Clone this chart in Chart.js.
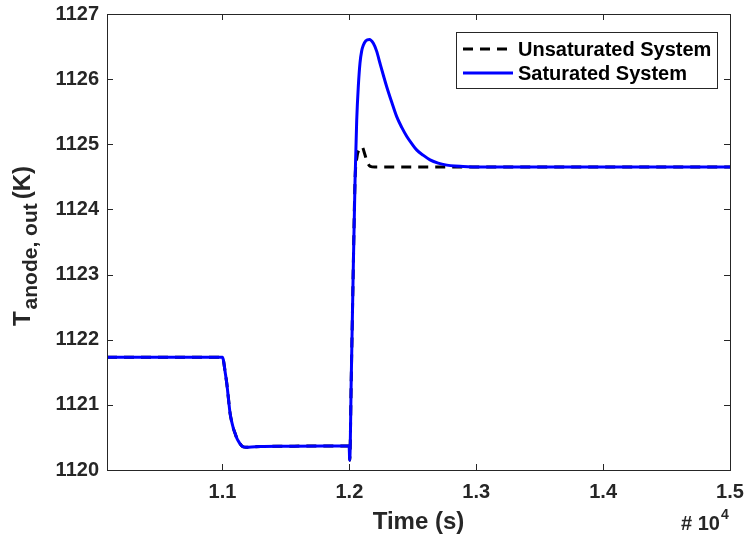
<!DOCTYPE html>
<html>
<head>
<meta charset="utf-8">
<script src="https://cdn.jsdelivr.net/npm/chart.js@4.4.1/dist/chart.umd.min.js"></script>
<style>
  html, body { margin: 0; padding: 0; background: #ffffff; }
  #c { display: block; }
</style>
</head>
<body>
<canvas id="c" width="748" height="544"></canvas>
<script>
// ---- data ----
const satTime = [10090, 11000, 11007, 11020, 11034, 11047, 11060, 11073, 11086, 11100, 11113, 11126, 11139, 11152, 11165, 11185, 11205, 11300, 11500, 11800, 11998,
                 12003, 12015, 12030, 12045, 12058, 12071, 12084, 12097, 12110, 12130, 12158, 12189, 12215, 12242, 12268, 12295, 12335, 12374, 12413, 12453, 12492, 12532, 12584, 12636, 12700, 12768, 12832, 12896, 13000, 14000, 15000];
const satTemp = [1121.73, 1121.73, 1121.69, 1121.52, 1121.33, 1121.10, 1120.87, 1120.74, 1120.64, 1120.56, 1120.49, 1120.44, 1120.40, 1120.37, 1120.355, 1120.35, 1120.35, 1120.36, 1120.365, 1120.37, 1120.37,
                 1120.15, 1121.40, 1123.00, 1124.45, 1125.37, 1125.90, 1126.25, 1126.43, 1126.52, 1126.59, 1126.61, 1126.55, 1126.43, 1126.24, 1126.06, 1125.88, 1125.64, 1125.42, 1125.26, 1125.12, 1125.01, 1124.91, 1124.83, 1124.76, 1124.71, 1124.68, 1124.665, 1124.66, 1124.65, 1124.65, 1124.65];
const unsatTime = [10090, 11000, 11007, 11020, 11034, 11047, 11060, 11073, 11086, 11100, 11113, 11126, 11139, 11152, 11165, 11185, 11205, 11300, 11500, 11800, 11998,
                   12003, 12015, 12030, 12045, 12060, 12080, 12100, 12120, 12140, 12165, 12200, 13000, 14000, 15000];
const unsatTemp = [1121.73, 1121.73, 1121.69, 1121.52, 1121.33, 1121.10, 1120.87, 1120.74, 1120.64, 1120.56, 1120.49, 1120.44, 1120.40, 1120.37, 1120.355, 1120.35, 1120.35, 1120.36, 1120.365, 1120.37, 1120.37,
                   1120.15, 1121.40, 1123.00, 1124.45, 1124.80, 1124.93, 1124.96, 1124.86, 1124.73, 1124.66, 1124.65, 1124.65, 1124.65, 1124.65];
const seriesNames = ['Unsaturated System', 'Saturated System'];
const xTickValues = [11000, 12000, 13000, 14000, 15000];
const yTickValues = [1120, 1121, 1122, 1123, 1124, 1125, 1126, 1127];
const xRange = [10090, 15000];
const yRange = [1120, 1127];
const xTitle = 'Time (s)';
const yTitleMain = 'T';
const yTitleSub = 'anode, out';
const yTitleUnit = '(K)';
const xExponent = '4';

// ---- styling ----
const FONT = "'Liberation Sans', Arial, Helvetica, sans-serif";
const INK = '#262626';

const toPoints = (xs, ys) => xs.map((x, i) => ({ x: x, y: ys[i] }));

const decorPlugin = {
  id: 'decor',
  afterDraw(chart) {
    const ctx = chart.ctx;
    const a = chart.chartArea;
    const xs = chart.scales.x, ys = chart.scales.y;
    ctx.save();
    // frame
    ctx.strokeStyle = INK;
    ctx.lineWidth = 1;
    ctx.strokeRect(Math.round(a.left) + 0.5, Math.round(a.top) + 0.5, Math.round(a.right - a.left), Math.round(a.bottom - a.top));
    // inward ticks
    const tl = 6;
    ctx.beginPath();
    xTickValues.forEach(v => {
      const px = Math.round(xs.getPixelForValue(v)) + 0.5;
      ctx.moveTo(px, a.bottom); ctx.lineTo(px, a.bottom - tl);
      ctx.moveTo(px, a.top); ctx.lineTo(px, a.top + tl);
    });
    yTickValues.forEach(v => {
      const py = Math.round(ys.getPixelForValue(v)) + 0.5;
      ctx.moveTo(a.left, py); ctx.lineTo(a.left + tl, py);
      ctx.moveTo(a.right, py); ctx.lineTo(a.right - tl, py);
    });
    ctx.stroke();

    // x title
    ctx.fillStyle = INK;
    ctx.font = 'bold 24px ' + FONT;
    ctx.textAlign = 'center';
    ctx.textBaseline = 'middle';
    ctx.fillText(xTitle, (a.left + a.right) / 2, 522);

    // exponent label
    ctx.textAlign = 'left';
    ctx.textBaseline = 'alphabetic';
    ctx.font = 'bold 20px ' + FONT;
    const base = '# 10';
    ctx.fillText(base, 681, 530);
    const bw = ctx.measureText(base).width;
    ctx.font = 'bold 14px ' + FONT;
    ctx.fillText(xExponent, 681 + bw + 1, 519);

    // y title (rotated, with subscript)
    ctx.save();
    ctx.font = 'bold 24px ' + FONT;
    const wT = ctx.measureText(yTitleMain).width;
    const wU = ctx.measureText(yTitleUnit).width;
    ctx.font = 'bold 21px ' + FONT;
    const wS = ctx.measureText(yTitleSub).width;
    const total = wT + 2 + wS + 4 + wU;
    const cy = 246;
    ctx.translate(30, cy + total / 2);
    ctx.rotate(-Math.PI / 2);
    ctx.textAlign = 'left';
    ctx.textBaseline = 'alphabetic';
    ctx.font = 'bold 24px ' + FONT;
    ctx.fillText(yTitleMain, 0, 0);
    ctx.font = 'bold 21px ' + FONT;
    ctx.fillText(yTitleSub, wT + 2, 7);
    ctx.font = 'bold 24px ' + FONT;
    ctx.fillText(yTitleUnit, wT + 2 + wS + 4, 0);
    ctx.restore();

    // legend
    const lx = 456, ly = 32, lw = 261, lh = 56;
    ctx.fillStyle = '#ffffff';
    ctx.fillRect(lx, ly, lw, lh);
    ctx.strokeStyle = INK;
    ctx.lineWidth = 1;
    ctx.strokeRect(lx + 0.5, ly + 0.5, lw, lh);
    const rows = [49, 73];
    chart.data.datasets.forEach((ds, i) => {
      const y = rows[i];
      ctx.save();
      ctx.strokeStyle = ds.borderColor;
      ctx.lineWidth = ds.borderWidth;
      ctx.setLineDash(ds.borderDash || []);
      ctx.beginPath();
      ctx.moveTo(463, y); ctx.lineTo(513, y);
      ctx.stroke();
      ctx.restore();
      ctx.fillStyle = '#000000';
      ctx.font = 'bold 20px ' + FONT;
      ctx.textAlign = 'left';
      ctx.textBaseline = 'middle';
      ctx.fillText(ds.label, 518, y + 1);
    });
    ctx.restore();
  }
};

new Chart(document.getElementById('c'), {
  type: 'line',
  data: {
    datasets: [
      { label: seriesNames[0], data: toPoints(unsatTime, unsatTemp), borderColor: '#000000', borderWidth: 3, borderDash: [10, 7], pointRadius: 0, fill: false, cubicInterpolationMode: 'monotone', order: 2 },
      { label: seriesNames[1], data: toPoints(satTime, satTemp), borderColor: '#0000ff', borderWidth: 3, pointRadius: 0, fill: false, cubicInterpolationMode: 'monotone', order: 1 }
    ]
  },
  options: {
    responsive: false,
    animation: false,
    devicePixelRatio: 1,
    layout: { padding: { top: 14, right: 18, left: 0, bottom: 0 } },
    plugins: { legend: { display: false }, tooltip: { enabled: false } },
    scales: {
      x: {
        type: 'linear', min: xRange[0], max: xRange[1],
        afterBuildTicks: s => { s.ticks = xTickValues.map(v => ({ value: v })); },
        afterFit: s => { s.height = 74; s.paddingLeft = 0; s.paddingRight = 0; },
        grid: { display: false, drawTicks: false },
        border: { display: false },
        ticks: { callback: v => (v / 10000).toFixed(1), color: INK, font: { family: FONT, size: 20, weight: 'bold' }, padding: 10, maxRotation: 0, autoSkip: false }
      },
      y: {
        type: 'linear', min: yRange[0], max: yRange[1],
        afterBuildTicks: s => { s.ticks = yTickValues.map(v => ({ value: v })); },
        afterFit: s => { s.width = 107; s.paddingTop = 0; s.paddingBottom = 0; },
        grid: { display: false, drawTicks: false },
        border: { display: false },
        ticks: { callback: v => String(v), color: INK, font: { family: FONT, size: 20, weight: 'bold' }, padding: 8 }
      }
    }
  },
  plugins: [decorPlugin]
});
</script>
</body>
</html>
